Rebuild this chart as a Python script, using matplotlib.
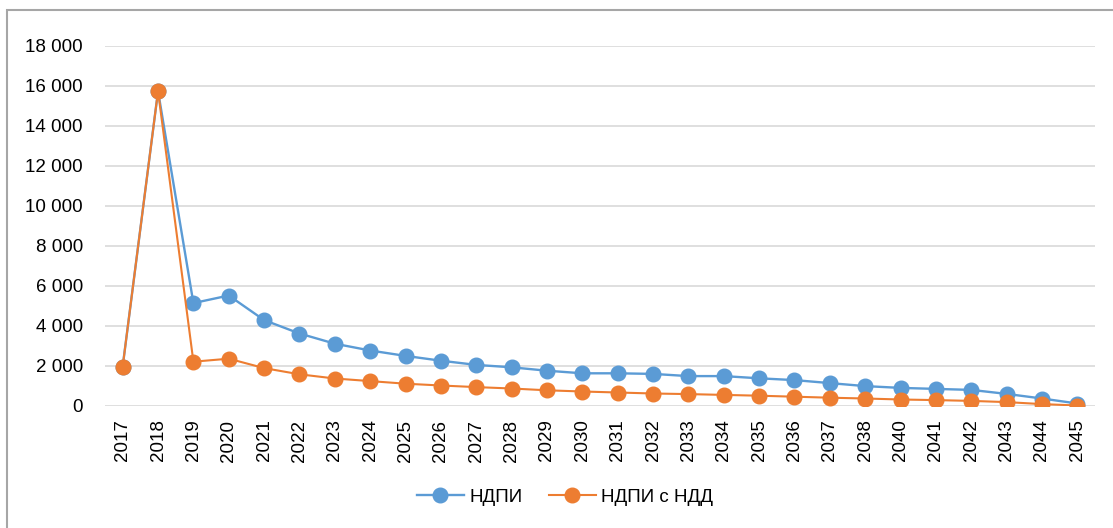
import matplotlib
matplotlib.use("Agg")
import matplotlib.pyplot as plt
from matplotlib.patches import Rectangle
from matplotlib.ticker import FuncFormatter, MultipleLocator

years = ["2017", "2018", "2019", "2020", "2021", "2022", "2023", "2024", "2025",
         "2026", "2027", "2028", "2029", "2030", "2031", "2032", "2033", "2034",
         "2035", "2036", "2037", "2038", "2040", "2041", "2042", "2043", "2044",
         "2045"]

ndpi = [1960, 15730, 5130, 5510, 4280, 3610, 3100, 2760, 2490,
        2250, 2040, 1920, 1750, 1620, 1620, 1590, 1480, 1480,
        1370, 1280, 1130, 980, 890, 840, 790, 590, 360, 110]

ndpi_ndd = [1960, 15730, 2200, 2350, 1880, 1570, 1360, 1230, 1100,
            1010, 930, 860, 770, 710, 660, 610, 580, 540,
            500, 450, 400, 360, 310, 280, 240, 180, 80, 10]

W, H = 1113, 528
fig = plt.figure(figsize=(W / 100, H / 100), dpi=100)
plt.rcParams["font.family"] = ["Liberation Sans", "DejaVu Sans"]

ax = fig.add_axes([105 / W, 1 - 405.7 / H, 990 / W, 360 / H])

x = list(range(len(years)))
blue = "#5B9BD5"
orange = "#ED7D31"
ax.plot(x, ndpi, color=blue, lw=1.7, marker="o", ms=10.5, mec=blue, mfc=blue,
        label="НДПИ", zorder=3)
ax.plot(x, ndpi_ndd, color=orange, lw=1.5, marker="o", ms=10.5, mec=orange,
        mfc=orange, label="НДПИ с НДД", zorder=4)

ax.set_xlim(-0.5, len(years) - 0.5)
ax.set_ylim(0, 18000)
ax.yaxis.set_major_locator(MultipleLocator(2000))
ax.yaxis.set_major_formatter(FuncFormatter(lambda v, p: f"{int(v):,}".replace(",", " ")))
ax.set_xticks(x)
ax.set_xticklabels(years, rotation=90)

ax.grid(axis="y", color="#D9D9D9", lw=1.2)
ax.set_axisbelow(True)
for s in ax.spines.values():
    s.set_visible(False)
ax.tick_params(axis="both", length=0, labelsize=13.5, colors="#000000")
ax.tick_params(axis="y", pad=16)
ax.tick_params(axis="x", pad=10)

fig.legend(loc="center", bbox_to_anchor=(565 / W, 1 - 497 / H), ncol=2,
           frameon=False, fontsize=13.5, handlelength=2.5, handletextpad=0.3,
           columnspacing=1.4)

fig.add_artist(Rectangle((7 / W, -0.2), 1.5, 1 - 10 / H + 0.2,
                         transform=fig.transFigure, fill=False,
                         ec="#A6A6A6", lw=1.5))

fig.savefig("out.png", dpi=100)
